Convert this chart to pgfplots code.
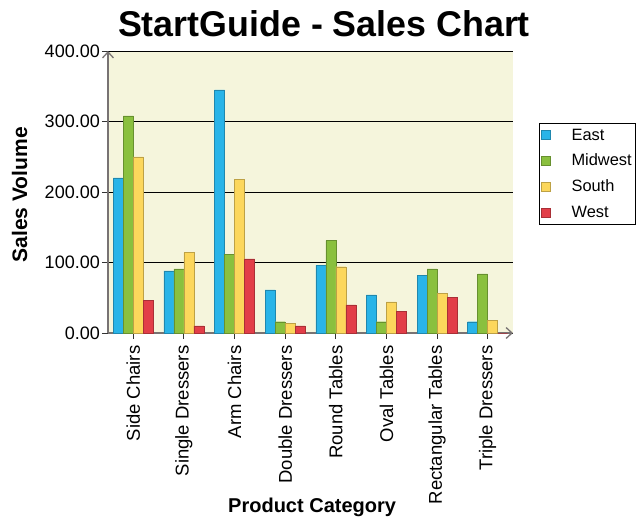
\documentclass[border=0pt]{standalone}
\usepackage{pgfplots}
\pgfplotsset{compat=1.18}
\usepackage{fontspec}
\setmainfont{Liberation Sans}
\usetikzlibrary{arrows.meta}

\definecolor{chartbg}{RGB}{245,245,220}
\definecolor{east}{RGB}{41,180,232}
\definecolor{midwest}{RGB}{138,192,62}
\definecolor{south}{RGB}{252,215,92}
\definecolor{west}{RGB}{226,62,72}
\definecolor{axisgray}{RGB}{120,115,115}

\begin{document}
\begin{tikzpicture}[x=1pt,y=1pt]
\begin{axis}[
  at={(108pt,184pt)}, anchor=south west,
  scale only axis, width=405pt, height=282pt,
  xmin=-0.5, xmax=7.5, ymin=0, ymax=400,
  ybar=0pt, bar width=10pt,
  axis background/.style={fill=chartbg},
  axis lines=left,
  x axis line style={axisgray, line width=1.3pt, -{Straight Barb[length=6pt,width=11pt,line width=1.3pt]}},
  y axis line style={axisgray, line width=1.3pt, -{Straight Barb[length=6pt,width=11pt,line width=1.3pt]}},
  xtick={0,...,7},
  xticklabels={Side Chairs,Single Dressers,Arm Chairs,Double Dressers,Round Tables,Oval Tables,Rectangular Tables,Triple Dressers},
  ytick={0,100,200,300,400},
  ymajorgrids, grid style={black, line width=0.9pt},
  tick align=outside, major tick length=6pt,
  tick style={black!80, line width=1pt},
  yticklabel style={font=\fontsize{18}{20}\selectfont, inner sep=2pt},
  xticklabel style={font=\fontsize{18.5}{20}\selectfont, rotate=90, anchor=east, inner sep=6.5pt},
  /pgf/number format/assume math mode=true,
  yticklabel={\pgfmathprintnumber[fixed,fixed zerofill,precision=2]{\tick}},
  ylabel={Sales Volume},
  ylabel style={at={(axis description cs:-0.2185,0.49)}, anchor=center, font=\bfseries\fontsize{21}{23}\selectfont},
  xlabel={Product Category},
  xlabel style={at={(axis description cs:0.504,-0.635)}, anchor=base, font=\bfseries\fontsize{20}{22}\selectfont},
  legend cell align=left,
  legend image code/.code={\draw[#1, line width=0.5pt] (0pt,-4.5pt) rectangle (9pt,4.5pt); \path[draw=none, fill=none] (0pt,0pt) -- (28pt,0pt);},
  legend style={at={(axis description cs:1.064,0.745)}, anchor=north west,
    draw=black, line width=0.8pt, fill=white,
    font=\fontsize{16.4}{18}\selectfont, row sep=8.5pt,
    inner xsep=2pt, inner ysep=3.5pt},
]
\addplot[fill=east, draw=east!75!black] coordinates {(0,220) (1,88) (2,345) (3,61) (4,96) (5,54) (6,82) (7,16)};
\addlegendentry{East}
\addplot[fill=midwest, draw=midwest!75!black] coordinates {(0,308) (1,91) (2,112) (3,16) (4,131) (5,16) (6,91) (7,84)};
\addlegendentry{Midwest}
\addplot[fill=south, draw=south!75!black] coordinates {(0,250) (1,114) (2,218) (3,14) (4,94) (5,44) (6,56) (7,18)};
\addlegendentry{South}
\addplot[fill=west, draw=west!75!black] coordinates {(0,46) (1,10) (2,105) (3,10) (4,40) (5,31) (6,51) (7,0)};
\addlegendentry{West}
\draw[black, line width=0.9pt] (rel axis cs:1,0) -- (rel axis cs:1,1);
\end{axis}
\node[font=\bfseries\fontsize{35.8}{40}\selectfont, anchor=base] at (324,480) {StartGuide - Sales Chart};
\pgfresetboundingbox
\path[use as bounding box] (0,0) rectangle (637,517);
\end{tikzpicture}
\end{document}
